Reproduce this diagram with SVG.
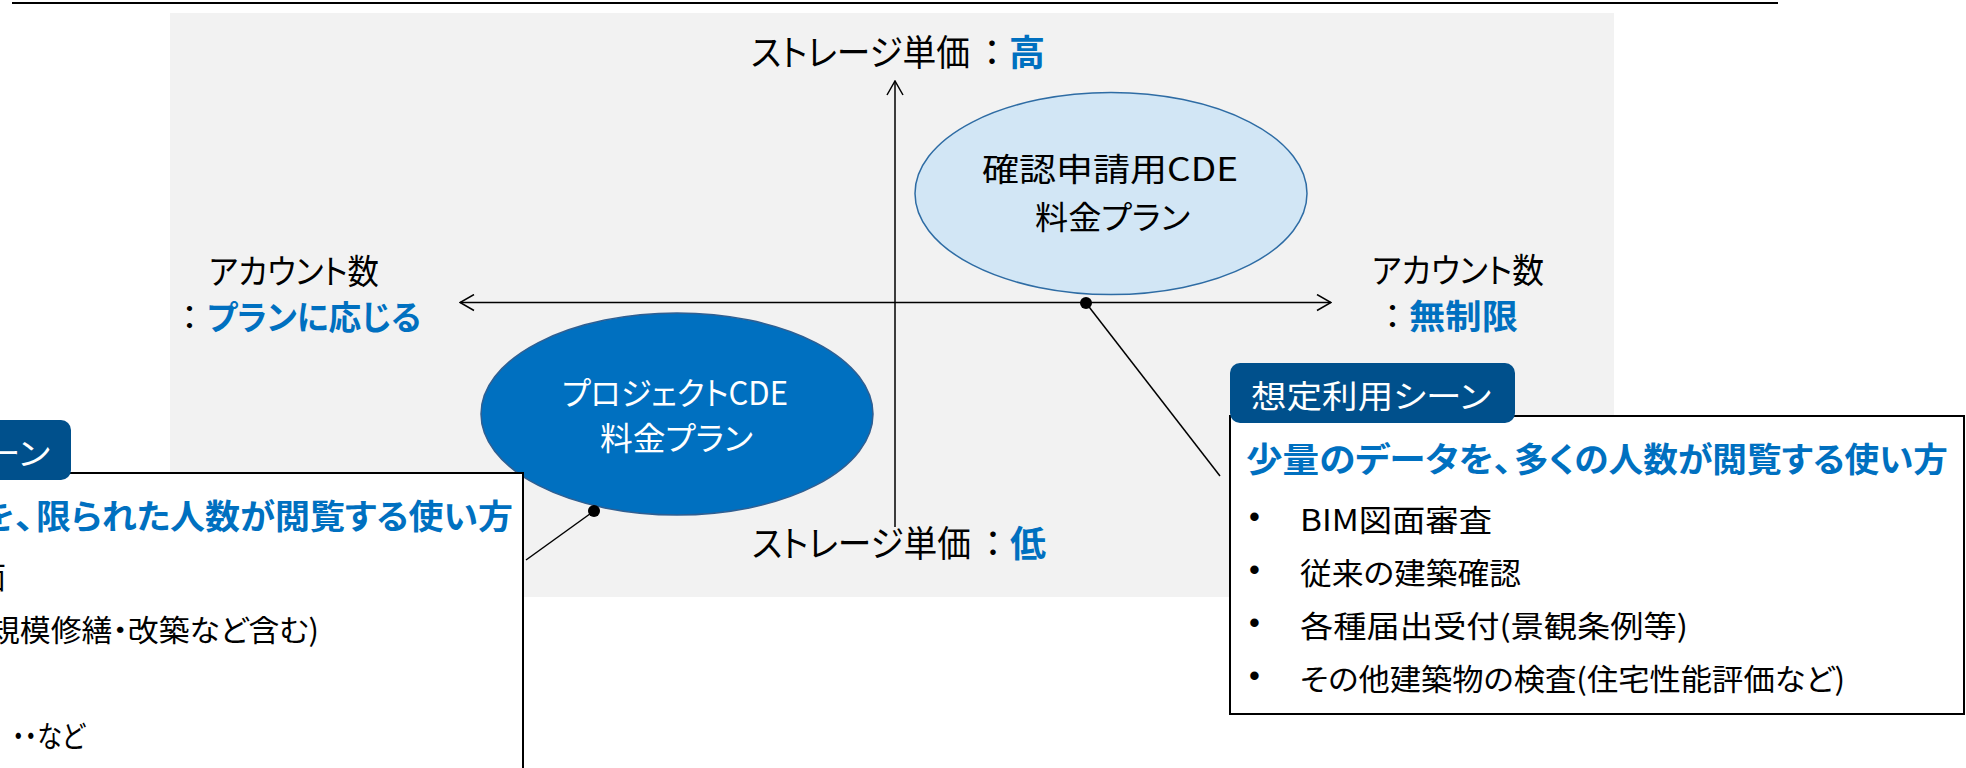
<svg xmlns="http://www.w3.org/2000/svg" width="1966" height="768" viewBox="0 0 1966 768">
<defs>
<style>
text { font-family: "Noto Sans CJK JP", "Noto Sans", sans-serif; font-feature-settings: "palt" 1; fill: #000; }
.b { font-weight: 700; fill: #0070C0; }
.ax { font-size: 36px; }
.sx { font-size: 34px; }
.el { font-size: 32px; }
.w { fill: #fff; }
.tab { fill: #00508C; }
.tabt { font-size: 32px; fill: #fff; }
.hd { font-size: 34px; font-weight: 700; fill: #0070C0; }
.li { font-size: 30px; }
.bu { font-family: "Liberation Sans", sans-serif; font-size: 31px; }
.axis { stroke: #000; stroke-width: 1.5; fill: none; }
.conn line { stroke: #000; stroke-width: 1.5; }
.conn circle { fill: #000; }
.box { fill: #fff; stroke: #000; stroke-width: 2; }
</style>
<marker id="arr" viewBox="0 0 16 18" refX="15" refY="9" markerWidth="16" markerHeight="18" markerUnits="userSpaceOnUse" orient="auto-start-reverse">
<path d="M1,1 L15,9 L1,17" fill="none" stroke="#000" stroke-width="1.5"/>
</marker>
</defs>
<rect x="0" y="0" width="1966" height="768" fill="#fff"/>
<line x1="12" y1="3" x2="1778" y2="3" stroke="#000" stroke-width="2.2"/>
<rect id="chart-bg" x="170" y="13" width="1444" height="584" fill="#F2F2F2"/>

<g id="axes">
<line class="axis" x1="460" y1="302.5" x2="1331" y2="302.5" marker-start="url(#arr)" marker-end="url(#arr)"/>
<line class="axis" x1="895" y1="527" x2="895" y2="81" marker-end="url(#arr)"/>
</g>

<g id="axis-labels">
<text class="ax" y="66"><tspan x="751" textLength="219" lengthAdjust="spacingAndGlyphs">ストレージ単価</tspan><tspan x="983">：</tspan><tspan class="b" x="1009">高</tspan></text>
<text class="ax" y="557"><tspan x="752" textLength="219" lengthAdjust="spacingAndGlyphs">ストレージ単価</tspan><tspan x="984">：</tspan><tspan class="b" x="1010">低</tspan></text>
<text class="sx" x="209" y="284" textLength="170" lengthAdjust="spacingAndGlyphs">アカウント数</text>
<text class="sx" y="330"><tspan x="181">：</tspan><tspan class="b" x="207" textLength="214" lengthAdjust="spacingAndGlyphs">プランに応じる</tspan></text>
<text class="sx" x="1372" y="283" textLength="172" lengthAdjust="spacingAndGlyphs">アカウント数</text>
<text class="sx" y="329"><tspan x="1384">：</tspan><tspan class="b" x="1409" textLength="109" lengthAdjust="spacingAndGlyphs">無制限</tspan></text>
</g>

<g id="plan-confirm">
<ellipse cx="1111" cy="193.5" rx="196" ry="101" fill="#D2E6F5" stroke="#2E6CA4" stroke-width="1.5"/>
<text class="el" x="982" y="181" textLength="256" lengthAdjust="spacingAndGlyphs">確認申請用CDE</text>
<text class="el" x="1035" y="229" textLength="155" lengthAdjust="spacingAndGlyphs">料金プラン</text>
</g>

<g id="plan-project">
<ellipse cx="677" cy="414" rx="196" ry="101" fill="#0070C0" stroke="#2F5F92" stroke-width="1.5"/>
<text class="el w" x="562" y="405" textLength="226" lengthAdjust="spacingAndGlyphs">プロジェクトCDE</text>
<text class="el w" x="600" y="450" textLength="153" lengthAdjust="spacingAndGlyphs">料金プラン</text>
</g>

<g id="connectors" class="conn">
<line x1="1086" y1="303" x2="1220" y2="476"/>
<circle cx="1086" cy="303" r="6"/>
<line x1="594" y1="511" x2="526" y2="560"/>
<circle cx="594" cy="511" r="6"/>
</g>

<g id="scene-right">
<rect class="box" x="1230" y="416" width="734" height="298"/>
<rect class="tab" x="1230" y="363" width="285" height="60" rx="10"/>
<text class="tabt" x="1251" y="408" textLength="240" lengthAdjust="spacingAndGlyphs">想定利用シーン</text>
<text class="hd" y="472"><tspan x="1246" textLength="266" lengthAdjust="spacingAndGlyphs">少量のデータを、</tspan><tspan x="1514" textLength="434" lengthAdjust="spacingAndGlyphs">多くの人数が閲覧する使い方</tspan></text>
<text class="bu" x="1249" y="527">•</text>
<text class="bu" x="1249" y="580">•</text>
<text class="bu" x="1249" y="633">•</text>
<text class="bu" x="1249" y="686">•</text>
<text class="li" x="1300" y="531" textLength="192" lengthAdjust="spacingAndGlyphs">BIM図面審査</text>
<text class="li" x="1300" y="584" textLength="221" lengthAdjust="spacingAndGlyphs">従来の建築確認</text>
<text class="li" x="1300" y="637" textLength="388" lengthAdjust="spacingAndGlyphs">各種届出受付(景観条例等)</text>
<text class="li" x="1300" y="690" textLength="545" lengthAdjust="spacingAndGlyphs">その他建築物の検査(住宅性能評価など)</text>
</g>

<g id="scene-left">
<rect class="box" x="-214" y="473" width="737" height="300"/>
<rect class="tab" x="-214" y="420" width="285" height="60" rx="10"/>
<text class="tabt" x="-190" y="465" textLength="240" lengthAdjust="spacingAndGlyphs">想定利用シーン</text>
<text class="hd" y="529"><tspan x="-22" textLength="56" lengthAdjust="spacingAndGlyphs">を、</tspan><tspan x="36" textLength="477" lengthAdjust="spacingAndGlyphs">限られた人数が閲覧する使い方</tspan></text>
<text class="li" x="-24" y="588">面</text>
<text class="li" x="-11" y="641" textLength="330" lengthAdjust="spacingAndGlyphs">規模修繕・改築など含む)</text>
<text class="li" x="12" y="747" textLength="73" lengthAdjust="spacingAndGlyphs">・・など</text>
</g>
</svg>
